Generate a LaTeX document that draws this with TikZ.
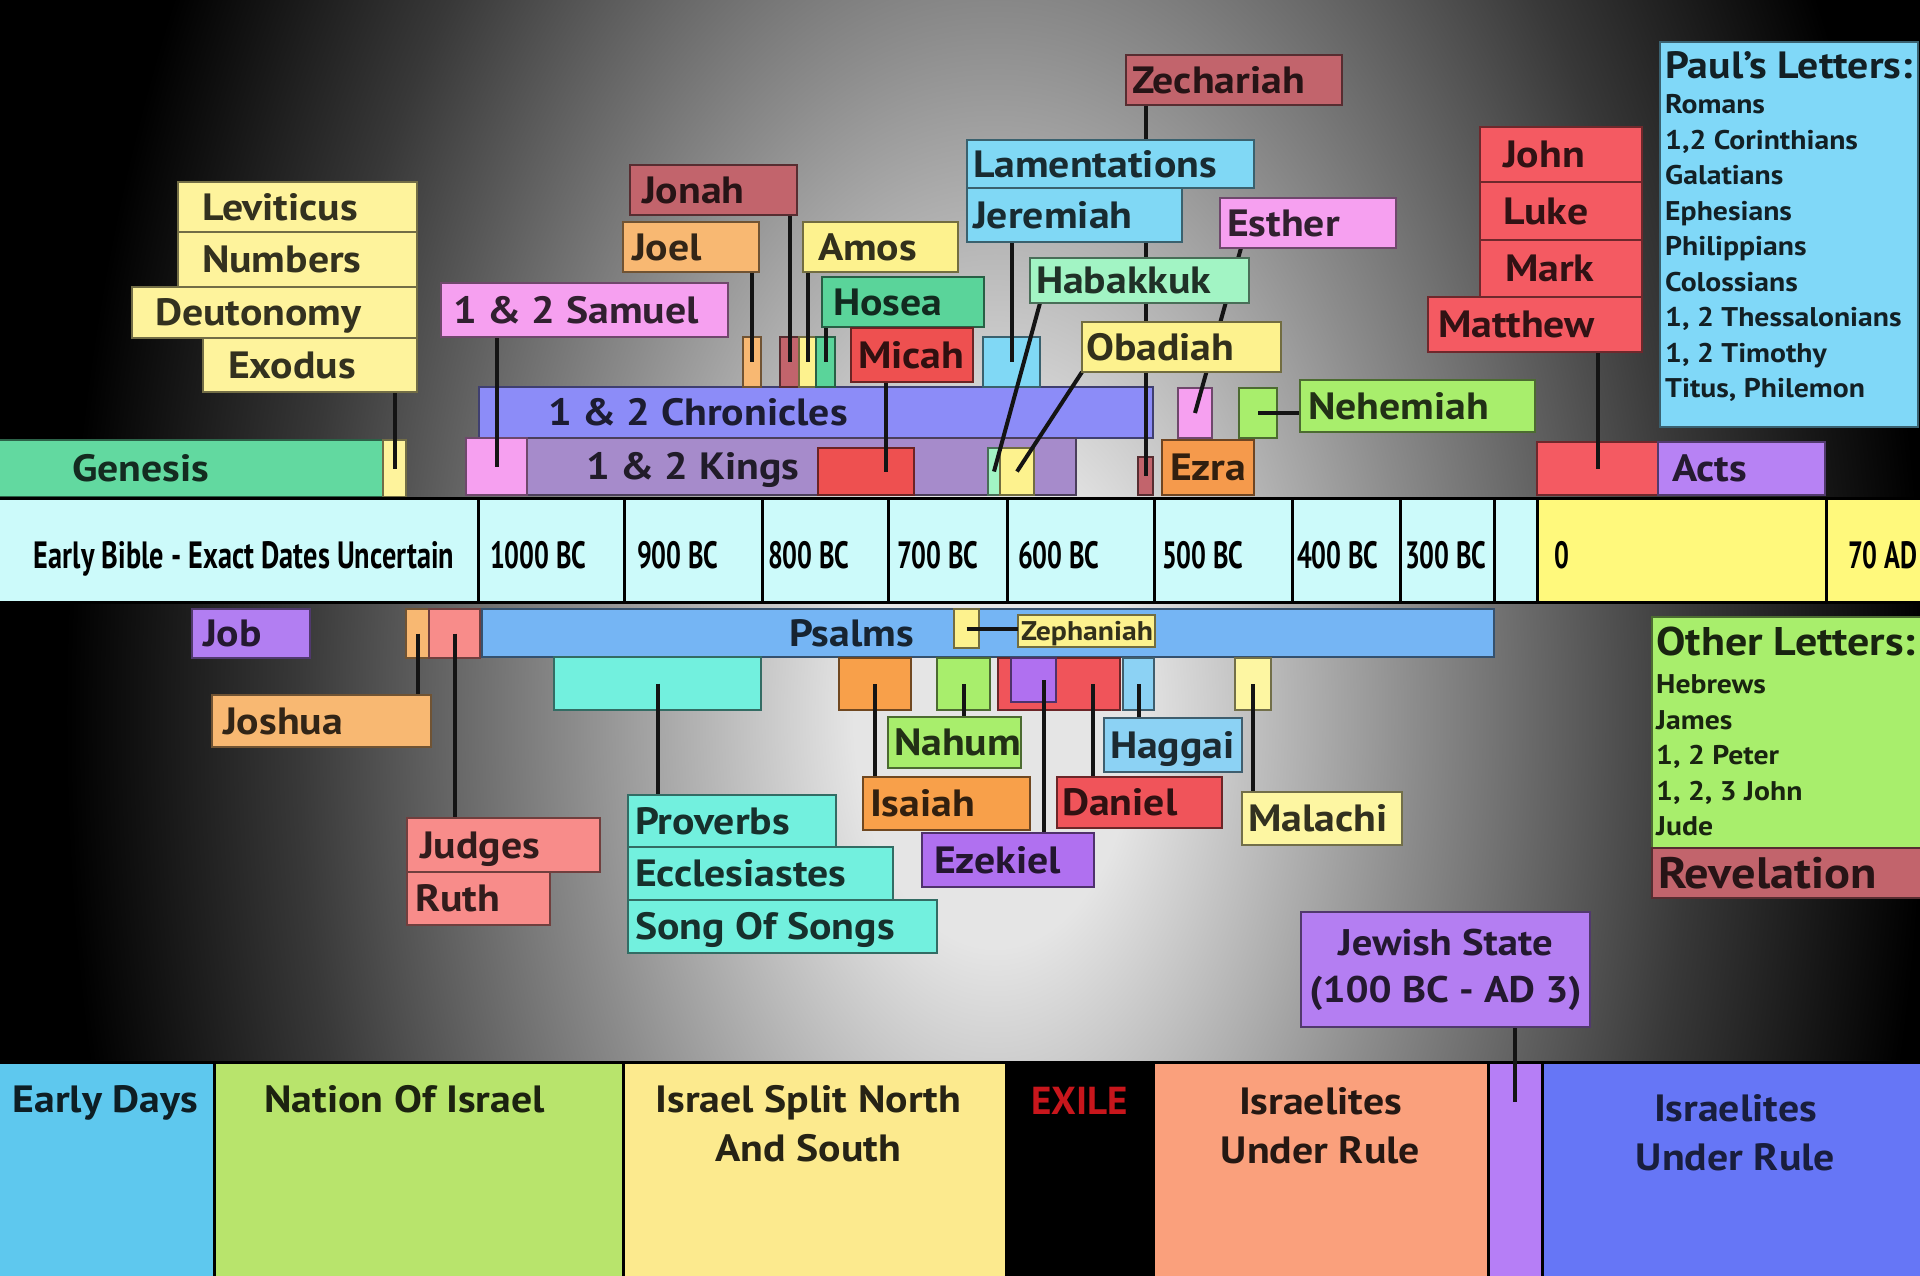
\documentclass[tikz,border=0pt]{standalone}
\usepackage{fontspec}
\setmainfont{PT Sans}[FakeStretch=1.1]
\newfontfamily\plainf{PT Sans}
\newfontfamily\condf{PT Sans}[FakeStretch=0.69]
\newfontfamily\condfb{PT Sans}[FakeStretch=0.745]
\usetikzlibrary{calc}
\definecolor{bgA}{gray}{0.90}
\definecolor{bgB}{gray}{0.55}
\definecolor{bgC}{gray}{0.22}
\definecolor{cYel}{HTML}{FEF39C}
\definecolor{cMint}{HTML}{62D9A0}
\definecolor{cPink}{HTML}{F6A0F0}
\definecolor{cPeri}{HTML}{8C8CF8}
\definecolor{cLav}{HTML}{A68BCB}
\definecolor{cLor}{HTML}{F8B872}
\definecolor{cRose}{HTML}{C2646C}
\definecolor{cAmos}{HTML}{FDF28E}
\definecolor{cGrn}{HTML}{5AD49A}
\definecolor{cLblue}{HTML}{80D8F5}
\definecolor{cRed}{HTML}{EE5050}
\definecolor{cHab}{HTML}{A2F4C4}
\definecolor{cOra}{HTML}{F59A4C}
\definecolor{cLgr}{HTML}{A8EE6C}
\definecolor{cGos}{HTML}{F45A62}
\definecolor{cPur}{HTML}{B782F4}
\definecolor{cPaul}{HTML}{80D8F8}
\definecolor{cCyan}{HTML}{CCFAFA}
\definecolor{cTYel}{HTML}{FFF97C}
\definecolor{cJob}{HTML}{B27EF2}
\definecolor{cSal}{HTML}{F88C8A}
\definecolor{cPs}{HTML}{75B5F4}
\definecolor{cTeal}{HTML}{72F0DE}
\definecolor{cIsa}{HTML}{F8A04A}
\definecolor{cDan}{HTML}{F0545A}
\definecolor{cEze}{HTML}{B070F0}
\definecolor{cHag}{HTML}{8CD2F4}
\definecolor{cMal}{HTML}{FDF6A2}
\definecolor{cJew}{HTML}{B47EF2}
\definecolor{cB1}{HTML}{5EC8EE}
\definecolor{cB2}{HTML}{B8E46C}
\definecolor{cB3}{HTML}{FCEA8E}
\definecolor{cB5}{HTML}{FAA07C}
\definecolor{cB6}{HTML}{B67EF6}
\definecolor{cB7}{HTML}{6676F6}
\definecolor{cExile}{HTML}{C8161C}
\pgfdeclareradialshading{bgshade}{\pgfpoint{0bp}{0bp}}{color(0bp)=(bgA); color(3.75bp)=(bgA); color(11.25bp)=(bgB); color(18.75bp)=(bgC); color(25bp)=(black); color(50bp)=(black)}
\pgfdeclarelayer{bglayer}
\pgfdeclarelayer{barlayer}
\pgfdeclarelayer{connlayer}
\pgfsetlayers{bglayer,barlayer,connlayer,main}
\newcommand\lblf{\fontsize{38}{44}\selectfont\bfseries}
\newcommand\tlf{\condf\fontsize{38}{44}\selectfont\bfseries}
\newcommand\tlfb{\condfb\fontsize{38}{44}\selectfont\bfseries}
\newcommand\zfont{\fontsize{27}{30}\selectfont\bfseries}
\newcommand\jfont{\fontsize{37}{47}\selectfont\bfseries}
\newcommand\bfont{\fontsize{38}{49}\selectfont\bfseries}
\newcommand\exf{\plainf\fontsize{39}{49}\selectfont\bfseries}
\newcommand\listf{\fontsize{27}{35.5}\selectfont\bfseries}
\newcommand\titf{\fontsize{38}{35}\selectfont}
\newcommand\titg{\fontsize{40}{35}\selectfont}
\tikzset{
  lbox/.style={rectangle, inner sep=0pt, outer sep=0pt, line width=2.5pt, font=\lblf, text height=26.6pt, text depth=0pt},
  mbox/.style={rectangle, inner sep=0pt, outer sep=0pt, line width=2.5pt},
  conn/.style={line width=4pt, draw=black!92},
  tcell/.style={draw=black, line width=3pt, text=black, font=\tlf, text height=36.6pt},
  bcell/.style={rectangle, inner sep=0pt, outer sep=0pt, draw=black, line width=3pt},
  btext/.style={font=\bfont, align=center, anchor=north, inner sep=0pt},
  ltext/.style={anchor=north west, align=left, inner sep=0pt, font=\listf}
}
% label box: [opts]{name}{colour}{x1}{y1}{x2}{y2}{pad}{text}
\newcommand\Lb[9][]{%
  \node[lbox, fill=#3, draw=#3!45!black, text=#3!20!black,
        minimum width={#6-#4}, minimum height={#7-#5}, anchor=north west, #1]
        (#2) at (#4,#5) {\makebox[\dimexpr #6pt-#4pt-#8pt-#8pt\relax][l]{#9}};}
% marker box: [opts]{name}{colour}{x1}{y1}{x2}{y2}
\newcommand\Mk[7][]{%
  \node[mbox, fill=#3, draw=#3!45!black,
        minimum width={#6-#4}, minimum height={#7-#5}, anchor=north west, #1]
        (#2) at (#4,#5) {};}
\begin{document}
\begin{tikzpicture}[x=1pt,y=-1pt]
\useasboundingbox (0,0) rectangle (1920,1275);
\begin{pgfonlayer}{bglayer}
\fill[black] (0,0) rectangle (1920,1275);
\begin{scope}
  \clip (0,0) rectangle (1920,1275);
  \shade[shading=bgshade] (995,715) ellipse [x radius=930, y radius=1530];
\end{scope}
\end{pgfonlayer}

\begin{pgfonlayer}{barlayer}
% ---------- bars and markers above the time line
\Lb{gen}{cMint}{-3}{440}{383}{497}{75}{Genesis}
\Mk{genm}{cYel}{383}{440}{406}{497}
\Lb{chr}{cPeri}{479}{387}{1153}{438}{69}{1 \& 2 Chronicles}
\Lb{kin}{cLav}{466}{438}{1076}{495}{120}{1 \& 2 Kings}
\Mk{samm}{cPink}{466}{438}{527}{495}
\Mk{micm}{cRed}{818}{448}{914}{495}
\Mk{habm}{cHab}{988}{448}{1000}{495}
\Mk{obam}{cAmos}{1000}{448}{1034}{495}
\Mk{zecm}{cRose}{1138}{457}{1153}{495}
\Lb{ezra}{cOra}{1162}{440}{1254}{495}{8}{Ezra}
\Mk{joelm}{cLor}{743}{337}{761}{387}
\Mk{jonahm}{cRose}{780}{337}{799}{387}
\Mk{amosm}{cAmos}{799}{337}{816}{387}
\Mk{hosm}{cGrn}{816}{337}{835}{387}
\Mk{jerm}{cLblue}{983}{337}{1040}{387}
\Mk{esthm}{cPink}{1178}{388}{1212}{438}
\Mk{nehm}{cLgr}{1239}{388}{1277}{438}
\Mk{gosm}{cGos}{1537}{442}{1658}{495}
\Lb{acts}{cPur}{1658}{442}{1825}{495}{14}{Acts}

% ---------- time line
\Lb[tcell, font=\tlfb]{t0}{cCyan}{-3}{498}{478}{602}{37}{Early Bible - Exact Dates Uncertain}
\Lb[tcell]{t1}{cCyan}{478}{498}{624}{602}{12}{1000 BC}
\Lb[tcell]{t2}{cCyan}{624}{498}{762}{602}{13}{900 BC}
\Lb[tcell]{t3}{cCyan}{762}{498}{888}{602}{6}{800 BC}
\Lb[tcell]{t4}{cCyan}{888}{498}{1007}{602}{9}{700 BC}
\Lb[tcell]{t5}{cCyan}{1007}{498}{1154}{602}{11}{600 BC}
\Lb[tcell]{t6}{cCyan}{1154}{498}{1292}{602}{8}{500 BC}
\Lb[tcell]{t7}{cCyan}{1292}{498}{1400}{602}{5}{400 BC}
\Lb[tcell]{t8}{cCyan}{1400}{498}{1494}{602}{5}{300 BC}
\Lb[tcell]{t9}{cCyan}{1494}{498}{1537}{602}{2}{}
\Lb[tcell]{t10}{cTYel}{1537}{498}{1826}{602}{17}{0}
\Lb[tcell]{t11}{cTYel}{1826}{498}{1923}{602}{22}{70 AD}

% ---------- bars and markers below the time line
\Lb{job}{cJob}{192}{609}{310}{658}{11}{Job}
\Mk{joshm}{cLor}{406}{609}{429}{658}
\Mk{judm}{cSal}{429}{609}{480}{658}
\Lb{ps}{cPs}{482}{609}{1494}{657}{307}{Psalms}
\Mk{zepm}{cAmos}{954}{609}{979}{648}
\Lb[font=\zfont, text height=18.9pt, line width=2pt]{zeph}{cAmos}{1018}{615}{1155}{647}{3}{Zephaniah}
\Mk{prom}{cTeal}{554}{657}{761}{710}
\Mk{ism}{cIsa}{839}{658}{911}{710}
\Mk{nahm}{cLgr}{937}{658}{990}{710}
\Mk{danm}{cDan}{998}{658}{1120}{710}
\Mk{ezem}{cEze}{1011}{658}{1056}{702}
\Mk{hagm}{cHag}{1123}{658}{1154}{710}
\Mk{malm}{cMal}{1235}{658}{1271}{710}

% ---------- bottom band
\node[bcell, fill=cB1, minimum width=217, minimum height=216, anchor=north west] (b1) at (-3,1062) {};
\node[bcell, fill=cB2, minimum width=409, minimum height=216, anchor=north west] (b2) at (214,1062) {};
\node[bcell, fill=cB3, minimum width=383, minimum height=216, anchor=north west] (b3) at (623,1062) {};
\node[bcell, fill=black, minimum width=147, minimum height=216, anchor=north west] (b4) at (1006,1062) {};
\node[bcell, fill=cB5, minimum width=335, minimum height=216, anchor=north west] (b5) at (1153,1062) {};
\node[bcell, fill=cB6, minimum width=54, minimum height=216, anchor=north west] (b6) at (1488,1062) {};
\node[bcell, fill=cB7, minimum width=381, minimum height=216, anchor=north west] (b7) at (1542,1062) {};
\end{pgfonlayer}

% ---------- labels above
\Lb{lev}{cYel}{178}{182}{417}{232}{24}{Leviticus}
\Lb{num}{cYel}{178}{232}{417}{287}{24}{Numbers}
\Lb{deu}{cYel}{132}{287}{417}{338}{23}{Deutonomy}
\Lb{exo}{cYel}{203}{338}{417}{392}{25}{Exodus}
\Lb{sam}{cPink}{441}{283}{728}{337}{12}{1 \& 2 Samuel}
\Lb{jonah}{cRose}{630}{165}{797}{215}{12}{Jonah}
\Lb{joel}{cLor}{623}{222}{759}{272}{9}{Joel}
\Lb{amos}{cAmos}{803}{222}{958}{272}{15}{Amos}
\Lb{hosea}{cGrn}{822}{277}{984}{327}{11}{Hosea}
\Lb{micah}{cRed}{851}{328}{973}{382}{7}{Micah}
\Lb{zech}{cRose}{1126}{55}{1342}{105}{6}{Zechariah}
\Lb{lam}{cLblue}{967}{140}{1254}{188}{6}{Lamentations}
\Lb{jer}{cLblue}{967}{188}{1182}{242}{6}{Jeremiah}
\Lb{esth}{cPink}{1220}{198}{1396}{248}{7}{Esther}
\Lb{hab}{cHab}{1030}{258}{1249}{303}{6}{Habakkuk}
\Lb{oba}{cAmos}{1082}{322}{1281}{372}{4}{Obadiah}
\Lb{neh}{cLgr}{1300}{380}{1535}{432}{8}{Nehemiah}
\Lb{john}{cGos}{1480}{127}{1642}{182}{23}{John}
\Lb{luke}{cGos}{1480}{182}{1642}{240}{23}{Luke}
\Lb{mark}{cGos}{1480}{240}{1642}{297}{25}{Mark}
\Lb{mat}{cGos}{1428}{297}{1642}{352}{10}{Matthew}

% ---------- labels below
\Lb{josh}{cLor}{212}{695}{431}{747}{11}{Joshua}
\Lb{jud}{cSal}{407}{818}{600}{872}{13}{Judges}
\Lb{ruth}{cSal}{407}{872}{550}{925}{8}{Ruth}
\Lb{pro}{cTeal}{628}{795}{836}{847}{7}{Proverbs}
\Lb{ecc}{cTeal}{628}{847}{893}{900}{7}{Ecclesiastes}
\Lb{song}{cTeal}{628}{900}{937}{953}{7}{Song Of Songs}
\Lb{nah}{cLgr}{888}{717}{1021}{768}{6}{Nahum}
\Lb{hag}{cHag}{1104}{718}{1242}{772}{6}{Haggai}
\Lb{isa}{cIsa}{863}{777}{1030}{830}{7}{Isaiah}
\Lb{dan}{cDan}{1057}{777}{1222}{828}{5}{Daniel}
\Lb{eze}{cEze}{922}{833}{1094}{887}{12}{Ezekiel}
\Lb{mal}{cMal}{1242}{792}{1402}{845}{6}{Malachi}

% ---------- letters boxes
\Mk{paul}{cPaul}{1660}{42}{1918}{427}
\node[ltext, text=cPaul!15!black] (paulx) at (1665,51)
  {{\titf Paul's Letters:}\\ Romans\\ 1,2 Corinthians\\ Galatians\\ Ephesians\\ Philippians\\ Colossians\\ 1, 2 Thessalonians\\ 1, 2 Timothy\\ Titus, Philemon};
\Mk{oth}{cLgr}{1652}{617}{1923}{848}
\node[ltext, text=cLgr!15!black] (othx) at (1656,627)
  {{\titg Other Letters:}\\[2.5pt] Hebrews\\ James\\ 1, 2 Peter\\ 1, 2, 3 John\\ Jude};
\Lb[font=\fontsize{44}{48}\selectfont\bfseries, text height=30.8pt]{rev}{cRose}{1652}{848}{1923}{898}{6}{Revelation}
\node[mbox, fill=cJew, draw=cJew!45!black, text=cJew!20!black, minimum width=289, minimum height=115, anchor=north west, font=\jfont, align=center] (jew) at (1301,912) {Jewish State\\(100 BC - AD 3)};

% ---------- bottom band texts
\node[btext, text=cB1!15!black] (bt1) at ([yshift=-23pt]b1.north) {Early Days};
\node[btext, text=cB2!15!black] (bt2) at ([yshift=-23pt, xshift=-14pt]b2.north) {Nation Of Israel};
\node[btext, text=cB3!15!black] (bt3) at ([yshift=-23pt, xshift=-6pt]b3.north) {Israel Split North\\And South};
\node[btext, font=\exf, text=cExile] (bt4) at ([yshift=-25pt]b4.north) {EXILE};
\node[btext, text=cB5!15!black] (bt5) at ([yshift=-25pt]b5.north) {Israelites\\Under Rule};
\node[btext, text=cB7!25!black] (bt7) at ([yshift=-32pt, xshift=3pt]b7.north) {Israelites\\Under Rule};

% ---------- connectors (drawn beneath the label boxes)
\begin{pgfonlayer}{connlayer}
\coordinate (micc) at ([xshift=20pt]micm.center);
\coordinate (ezec) at ([xshift=10pt]ezem.center);
\coordinate (danc) at ([xshift=34pt]danm.center);
\coordinate (jend) at ([yshift=-40pt]b6.north);
\draw[conn] (exo.south -| genm) -- (genm.center);
\draw[conn] (sam.south -| samm) -- (samm.center);
\draw[conn] (joel.south -| joelm) -- (joelm.center);
\draw[conn] (jonah.south -| jonahm) -- (jonahm.center);
\draw[conn] (amos.south -| amosm) -- (amosm.center);
\draw[conn] (hosea.south -| hosm) -- (hosm.center);
\draw[conn] (micah.south -| micc) -- (micc);
\draw[conn] (jer.south -| jerm) -- (jerm.center);
\draw[conn] (zech.south -| zecm) -- (zecm.center);
\draw[conn] ([xshift=10pt]hab.south west) -- (habm.center);
\draw[conn] (oba.south west) -- (obam.center);
\draw[conn] ([xshift=21pt]esth.south west) -- (esthm.center);
\draw[conn] (nehm.center) -- (nehm.center -| neh.west);
\draw[conn] (mat.south -| gosm) -- (gosm.center);
\draw[conn] (zepm.center) -- (zepm.center -| zeph.west);
\draw[conn] (joshm.center) -- (joshm.center |- josh.north);
\draw[conn] (judm.center) -- (judm.center |- jud.north);
\draw[conn] (prom.center) -- (prom.center |- pro.north);
\draw[conn] (ism.center) -- (ism.center |- isa.north);
\draw[conn] (nahm.center) -- (nahm.center |- nah.north);
\draw[conn] (ezec) -- (ezec |- eze.north);
\draw[conn] (danc) -- (danc |- dan.north);
\draw[conn] (hagm.center) -- (hagm.center |- hag.north);
\draw[conn] (malm.center) -- (malm.center |- mal.north);
\draw[conn] (jew.south -| jend) -- (jend);
\end{pgfonlayer}
\end{tikzpicture}
\end{document}
